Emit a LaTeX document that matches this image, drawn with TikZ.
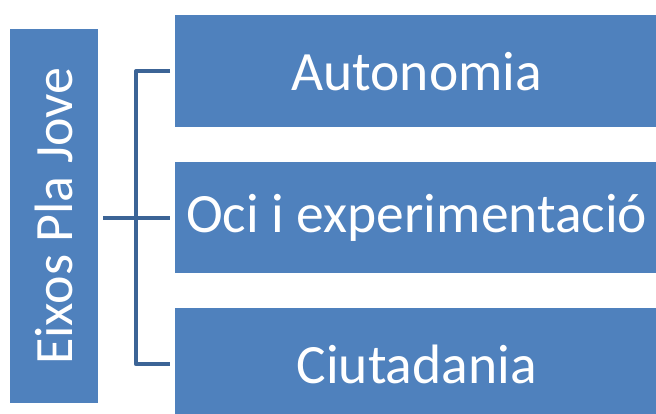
\documentclass[tikz,border=0pt]{standalone}
\usepackage{fontspec}
\setmainfont{Carlito}
\usepackage{xcolor}
\usetikzlibrary{positioning}

\definecolor{boxblue}{RGB}{79,129,189}
\definecolor{linkblue}{RGB}{60,100,150}

\tikzset{
	axisbox/.style = {rectangle, fill=boxblue, text=white, inner sep=0pt,
		font=\fontsize{55.5}{60}\selectfont},
	link/.style = {draw=linkblue, line width=4pt, line join=round}
}

\begin{document}
\begin{tikzpicture}[x=1pt, y=-1pt]
			\useasboundingbox (0,0) rectangle (656,414);
			\clip (0,0) rectangle (656,414);
			% axes
			\node[axisbox, minimum width=88pt, minimum height=374pt, anchor=north west]
				(eixos) at (10,29) {};
			\node[white, rotate=90, font=\fontsize{54}{60}\selectfont] (eixostext) at (eixos.center) {Eixos Pla Jove};
			\node[axisbox, minimum width=483pt, minimum height=112pt, anchor=north west]
				(auto) at (175,15) {Autonomia};
			\node[axisbox, minimum width=483pt, minimum height=111pt, anchor=north west]
				(oci) at (175,162) {Oci i experimentació};
			\node[axisbox, minimum width=483pt, minimum height=112pt, anchor=north west]
				(ciu) at (175,308) {Ciutadania};
			% connectors
			\coordinate (fork) at (136,217);
			\draw[link, shorten <=5pt, shorten >=5pt] (eixos.east |- oci.west) -- (oci.west);
			\draw[link, shorten <=5pt, shorten >=5pt] (auto.west) -| (fork) |- (ciu.west);
		\end{tikzpicture}
\end{document}
